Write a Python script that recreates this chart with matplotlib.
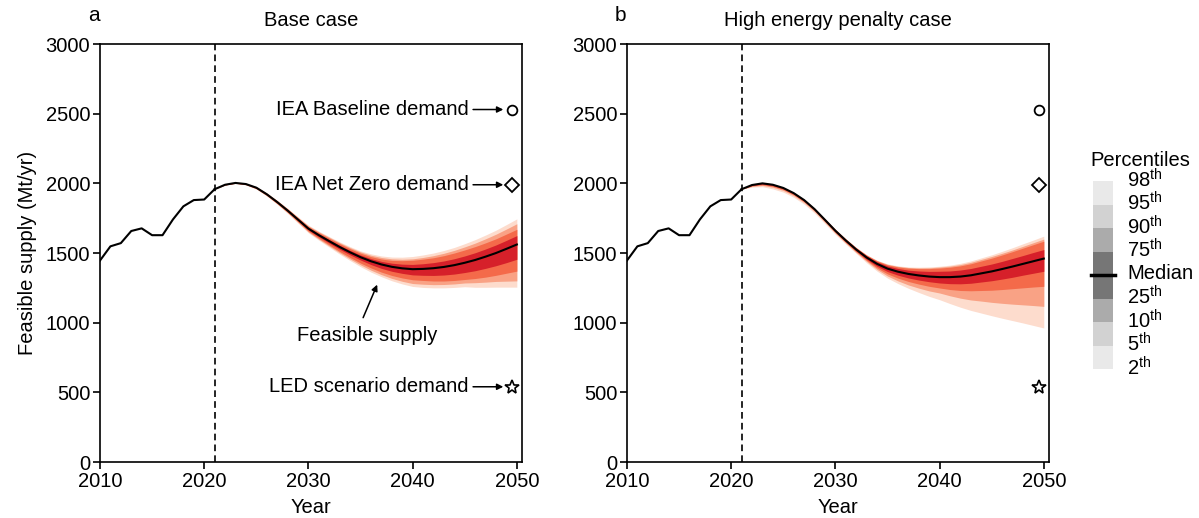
import matplotlib
matplotlib.use("Agg")
import matplotlib.pyplot as plt
from matplotlib.patches import Rectangle
import numpy as np

plt.rcParams['font.family'] = ['Liberation Sans', 'DejaVu Sans']
plt.rcParams['mathtext.fontset'] = 'custom'
plt.rcParams['mathtext.rm'] = 'Liberation Sans'
plt.rcParams['font.size'] = 14.5

# historical supply (Mt/yr)
hist_years = list(range(2010, 2022))
hist_supply = [1446, 1548, 1571, 1658, 1677, 1628, 1628, 1741, 1835, 1880, 1884, 1958]

# projections 2021-2050
proj_years = list(range(2021, 2051))

base_median = [1958, 1990, 2003, 1995, 1969, 1922, 1866, 1805, 1740, 1675,
               1628, 1585, 1543, 1505, 1470, 1441, 1418, 1401, 1390, 1384,
               1386, 1391, 1400, 1413, 1430, 1450, 1474, 1500, 1530, 1561]
# spread above median: 75th, 90th, 95th, 98th
base_up = {
    75: [0, 1, 1, 2, 3, 4, 5, 6, 7, 8, 10, 11, 13, 14, 16, 19, 22, 26, 30, 34,
         37, 40, 43, 46, 49, 52, 55, 58, 61, 64],
    90: [0, 1, 2, 3, 5, 6, 8, 10, 12, 15, 18, 21, 24, 26, 29, 33, 39, 46, 55, 64,
         70, 75, 81, 87, 92, 96, 99, 102, 106, 109],
    95: [0, 2, 3, 4, 6, 8, 10, 13, 16, 20, 24, 28, 31, 34, 38, 43, 50, 57, 65, 74,
         82, 90, 98, 106, 114, 121, 128, 135, 142, 149],
    98: [0, 2, 4, 5, 8, 10, 13, 16, 20, 25, 29, 33, 37, 41, 45, 53, 61, 70, 80, 91,
         100, 109, 118, 127, 137, 146, 155, 164, 174, 184],
}
# spread below median: 25th, 10th, 5th, 2nd
base_lo = {
    25: [0, 1, 1, 2, 3, 4, 5, 6, 8, 10, 12, 14, 16, 18, 20, 24, 28, 32, 36, 41,
         46, 52, 58, 64, 70, 77, 84, 91, 99, 106],
    10: [0, 1, 2, 4, 6, 8, 10, 12, 15, 18, 22, 27, 32, 37, 42, 48, 55, 62, 69, 76,
         83, 92, 101, 110, 120, 133, 147, 160, 175, 191],
    5: [0, 2, 3, 5, 8, 10, 13, 16, 20, 24, 29, 35, 41, 48, 55, 64, 73, 83, 93, 103,
        110, 118, 126, 135, 145, 163, 183, 204, 232, 261],
    2: [0, 2, 4, 6, 10, 13, 16, 20, 25, 30, 36, 43, 51, 59, 68, 78, 88, 100, 112, 124,
        133, 141, 150, 160, 172, 196, 220, 245, 275, 306],
}

high_median = [1958, 1988, 2000, 1990, 1967, 1930, 1880, 1815, 1738, 1660,
               1590, 1525, 1468, 1422, 1388, 1366, 1350, 1339, 1331, 1327,
               1327, 1331, 1340, 1354, 1368, 1385, 1403, 1422, 1441, 1460]
high_up = {
    75: [0, 1, 1, 1, 2, 2, 2, 3, 4, 5, 6, 8, 11, 15, 19, 23, 27, 32, 37, 42,
         44, 47, 49, 51, 53, 55, 58, 60, 63, 65],
    90: [0, 1, 2, 2, 3, 3, 4, 5, 6, 8, 10, 12, 16, 21, 27, 34, 41, 49, 57, 65,
         71, 77, 83, 89, 95, 101, 107, 113, 119, 125],
    95: [0, 2, 2, 3, 4, 4, 5, 6, 7, 9, 11, 14, 18, 24, 31, 38, 46, 54, 63, 72,
         79, 86, 93, 100, 107, 113, 119, 126, 133, 140],
    98: [0, 2, 3, 4, 5, 5, 6, 7, 8, 10, 12, 15, 20, 26, 34, 42, 50, 59, 69, 78,
         86, 95, 103, 111, 119, 127, 135, 144, 152, 161],
}
high_lo = {
    25: [0, 3, 5, 6, 6, 6, 6, 6, 7, 8, 9, 10, 13, 17, 21, 25, 29, 33, 37, 42,
         47, 52, 57, 62, 67, 72, 77, 81, 86, 91],
    10: [0, 6, 10, 12, 12, 12, 12, 12, 12, 13, 14, 16, 21, 29, 38, 46, 54, 62, 70, 78,
         89, 100, 111, 123, 135, 147, 159, 172, 185, 199],
    5: [0, 10, 15, 18, 18, 18, 18, 17, 17, 18, 19, 21, 28, 40, 53, 66, 79, 91, 103, 114,
        134, 155, 177, 199, 222, 246, 270, 294, 318, 343],
    2: [0, 15, 24, 30, 30, 30, 29, 28, 27, 26, 26, 28, 38, 52, 68, 85, 103, 122, 142, 162,
        190, 220, 252, 285, 318, 353, 388, 424, 461, 498],
}

# demand scenarios in 2050
demand_year = 2049.5
iea_baseline = 2530
iea_netzero = 1990
led_demand = 540

band_pairs = [(98, 2), (95, 5), (90, 10), (75, 25)]
band_colors = ['#fddccd', '#f9a285', '#f46a4a', '#d6202a']

fig = plt.figure(figsize=(11.99, 5.18), dpi=100)
ax_a = fig.add_axes([0.0834, 0.1081, 0.352, 0.8069])
ax_b = fig.add_axes([0.5229, 0.1081, 0.352, 0.8069])


def draw_panel(ax, median, up, lo, title, letter):
    med = np.array(median)
    for (hi_p, lo_p), col in zip(band_pairs, band_colors):
        ax.fill_between(proj_years, med - np.array(lo[lo_p]), med + np.array(up[hi_p]),
                        color=col, lw=0)
    ax.plot(hist_years, hist_supply, color='black', lw=1.5)
    ax.plot(proj_years, median, color='black', lw=1.5)
    ax.axvline(2021, color='black', ls='--', lw=1.2, dashes=(4, 2.5))
    ax.plot(demand_year, iea_baseline, 'o', mfc='white', mec='black', ms=7, mew=1.3)
    ax.plot(demand_year, iea_netzero, 'D', mfc='white', mec='black', ms=7, mew=1.3)
    ax.plot(demand_year, led_demand, '*', mfc='white', mec='black', ms=10, mew=1.2)
    ax.set_xlim(2010, 2050.5)
    ax.set_ylim(0, 3000)
    ax.set_xticks([2010, 2020, 2030, 2040, 2050])
    ax.set_yticks([0, 500, 1000, 1500, 2000, 2500, 3000])
    ax.tick_params(direction='out', length=5, width=1.2, labelsize=14.5, pad=2)
    for s in ax.spines.values():
        s.set_linewidth(1.2)
    ax.set_xlabel('Year', fontsize=14.5, labelpad=5)
    ax.set_title(title, fontsize=14.5, pad=13)
    ax.text(-0.015, 1.045, letter, transform=ax.transAxes, ha='center', va='bottom',
            fontsize=15)


draw_panel(ax_a, base_median, base_up, base_lo, 'Base case', 'a')
draw_panel(ax_b, high_median, high_up, high_lo, 'High energy penalty case', 'b')
ax_a.set_ylabel('Feasible supply (Mt/yr)', fontsize=14.5, labelpad=6)

arrow = dict(arrowstyle='-|>', color='black', lw=1.1, mutation_scale=9,
             shrinkA=1, shrinkB=6)
ax_a.annotate('IEA Baseline demand', xy=(demand_year, iea_baseline),
              xytext=(2045.4, iea_baseline), ha='right', va='center', arrowprops=arrow)
ax_a.annotate('IEA Net Zero demand', xy=(demand_year, iea_netzero),
              xytext=(2045.4, iea_netzero), ha='right', va='center', arrowprops=arrow)
ax_a.annotate('LED scenario demand', xy=(demand_year, led_demand),
              xytext=(2045.4, led_demand), ha='right', va='center', arrowprops=arrow)
ax_a.annotate('', xy=(2036.6, 1273), xytext=(2035.25, 1036),
              arrowprops=dict(arrowstyle='-|>', color='black', lw=1.1,
                              mutation_scale=9, shrinkA=0, shrinkB=0))
ax_a.text(2035.6, 905, 'Feasible supply', ha='center', va='center')

# percentile key
pct_labels = ['2', '5', '10', '25', 'Median', '75', '90', '95', '98']
key_greys = ['#e9e9e9', '#d2d2d2', '#ababab', '#767676',
             '#767676', '#ababab', '#d2d2d2', '#e9e9e9']
ax_k = fig.add_axes([1093 / 1199, 1 - 369 / 518, 20 / 1199, 188 / 518])
for i, g in enumerate(key_greys):
    ax_k.add_patch(Rectangle((0, i), 1, 1, color=g, lw=0))
ax_k.plot([-0.1, 1.1], [4, 4], color='black', lw=2.5, clip_on=False)
ax_k.set_xlim(0, 1)
ax_k.set_ylim(0, 8)
ax_k.axis('off')
for i, lab in enumerate(pct_labels):
    if lab == 'Median':
        txt = 'Median'
    else:
        txt = lab + r'$^{\mathrm{th}}$'
    ax_k.text(1.7, i + 0.05, txt, ha='left', va='center', fontsize=14.5,
              transform=ax_k.transData)
fig.text(1140 / 1199, 1 - 160 / 518, 'Percentiles', ha='center', va='center', fontsize=14.5)

fig.savefig('out.png', dpi=100)
